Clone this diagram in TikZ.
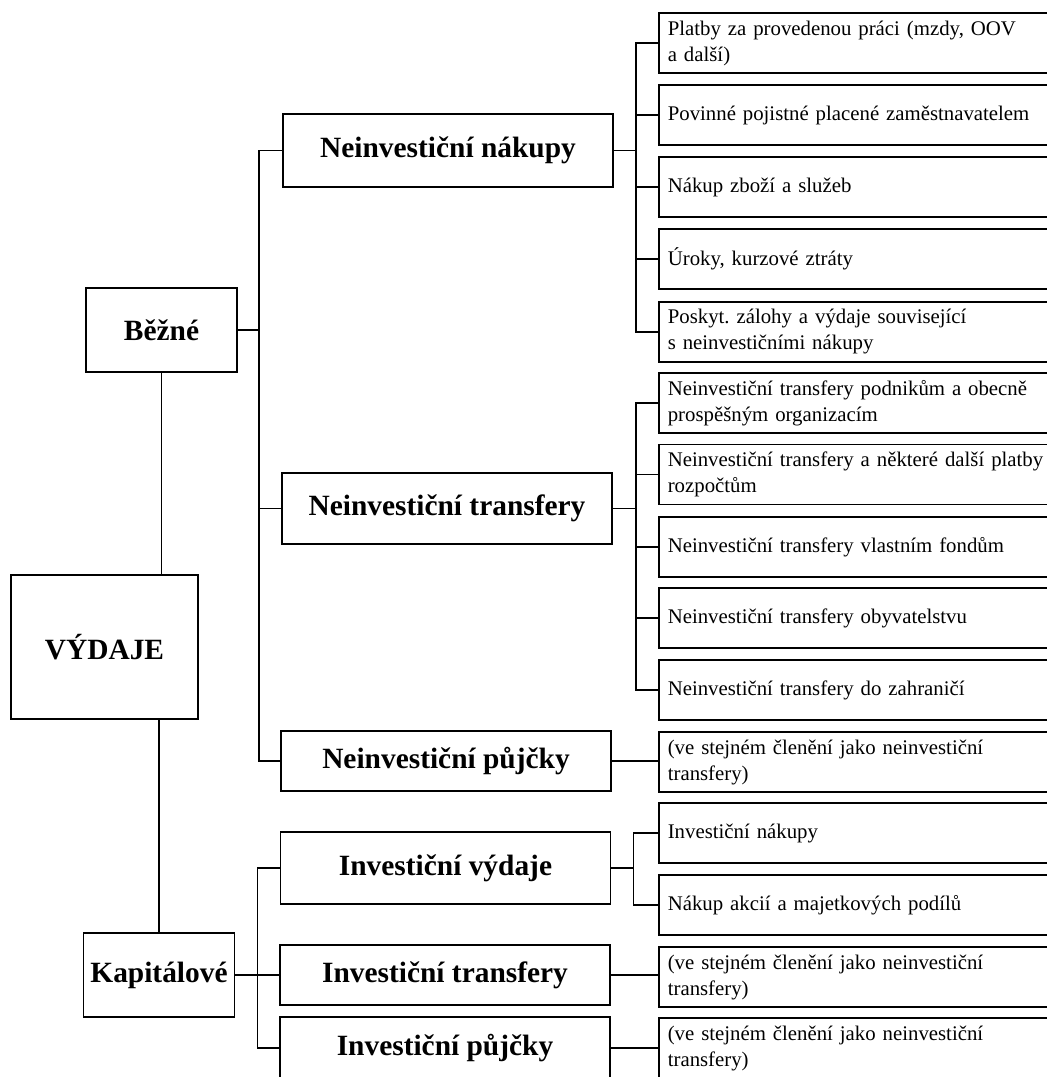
\documentclass[tikz,border=0pt]{standalone}
\usepackage{fontspec}
\setmainfont{Liberation Serif}
\frenchspacing
\begin{document}
\begin{tikzpicture}[x=0.5pt,y=-0.5pt]
    \tikzset{root/.style=  {draw,
                            rectangle,
                            line width=0.8pt,
                            font=\bfseries\fontsize{14.7}{17}\selectfont,
                            minimum width=93.5pt,
                            minimum height=72pt},
             group/.style= {draw,
                            rectangle,
                            line width=0.8pt,
                            font=\bfseries\fontsize{14.7}{17}\selectfont,
                            minimum width=75.5pt,
                            minimum height=42pt},
             sub/.style=   {draw,
                            rectangle,
                            line width=0.8pt,
                            font=\bfseries\fontsize{14.7}{17}\selectfont,
                            minimum width=165pt,
                            minimum height=30pt},
             item/.style=  {draw,
                            rectangle,
                            line width=0.8pt,
                            anchor=west,
                            align=left,
                            font=\fontsize{10.4}{13}\selectfont,
                            text width=200pt,
                            inner xsep=4.5pt,
                            inner ysep=0pt,
                            minimum height=30pt},
             link/.style=  {line width=0.8pt},
            }
    \useasboundingbox (0,0) rectangle (1046,1077);
    \path
    (104.5,647) node[root](v)  {VÝDAJE}
    (161.5,330) node[group](b) {Běžné}
    (159,975)   node[group](k) {Kapitálové}
    (448,150.5) node[sub,minimum height=36.5pt](nn) {Neinvestiční nákupy}
    (447,508.5) node[sub,minimum height=35.5pt](nt) {Neinvestiční transfery}
    (446,761)   node[sub](np) {Neinvestiční půjčky}
    (445.5,868) node[sub,minimum height=36pt](iv) {Investiční výdaje}
    (445,975)   node[sub](it) {Investiční transfery}
    (445,1048)  node[sub,minimum height=31pt](ip) {Investiční půjčky}
    (658,43)    node[item](p1)  {Platby za provedenou práci (mzdy, OOV\\a další)}
    (658,115)   node[item](p2)  {Povinné pojistné placené zaměstnavatelem}
    (658,187)   node[item](p3)  {Nákup zboží a služeb}
    (658,259)   node[item](p4)  {Úroky, kurzové ztráty}
    (658,332)   node[item](p5)  {Poskyt. zálohy a výdaje související\\s neinvestičními nákupy}
    (658,403)   node[item](p6)  {Neinvestiční transfery podnikům a obecně\\prospěšným organizacím}
    (658,474.5) node[item](p7)  {Neinvestiční transfery a některé další platby\\rozpočtům}
    (658,547)   node[item](p8)  {Neinvestiční transfery vlastním fondům}
    (658,618)   node[item](p9)  {Neinvestiční transfery obyvatelstvu}
    (658,690)   node[item](p10) {Neinvestiční transfery do zahraničí}
    (658,762)   node[item](p11) {(ve stejném členění jako neinvestiční\\transfery)}
    (658,833)   node[item](p12) {Investiční nákupy}
    (658,905)   node[item](p13) {Nákup akcií a majetkových podílů}
    (658,977)   node[item](p14) {(ve stejném členění jako neinvestiční\\transfery)}
    (658,1048)  node[item](p15) {(ve stejném členění jako neinvestiční\\transfery)}
    ;
    % root to groups
    \draw[link] (b.south) -- (b.south |- v.north);
    \draw[link] (k.north) -- (k.north |- v.south);
    % groups to subgroups
    \draw[link] (b.east) -- ++(21,0) |- (nn.west);
    \draw[link] (b.east) -- ++(21,0) |- (nt.west);
    \draw[link] (b.east) -- ++(21,0) |- (np.west);
    \draw[link] (k.east) -- ++(22,0) |- (iv.west);
    \draw[link] (k.east) -- ++(22,0) |- (it.west);
    \draw[link] (k.east) -- ++(22,0) |- (ip.west);
    % subgroups to items
    \draw[link] (nn.east) -- ++(22,0) |- (p1.west);
    \draw[link] (nn.east) -- ++(22,0) |- (p2.west);
    \draw[link] (nn.east) -- ++(22,0) |- (p3.west);
    \draw[link] (nn.east) -- ++(22,0) |- (p4.west);
    \draw[link] (nn.east) -- ++(22,0) |- (p5.west);
    \draw[link] (nt.east) -- ++(23,0) |- (p6.west);
    \draw[link] (nt.east) -- ++(23,0) |- (p7.west);
    \draw[link] (nt.east) -- ++(23,0) |- (p8.west);
    \draw[link] (nt.east) -- ++(23,0) |- (p9.west);
    \draw[link] (nt.east) -- ++(23,0) |- (p10.west);
    \draw[link] (np.east) -- (np.east -| p11.west);
    \draw[link] (iv.east) -- ++(22,0) |- (p12.west);
    \draw[link] (iv.east) -- ++(22,0) |- (p13.west);
    \draw[link] (it.east) -- (it.east -| p14.west);
    \draw[link] (ip.east) -- (ip.east -| p15.west);
\end{tikzpicture}
\end{document}
